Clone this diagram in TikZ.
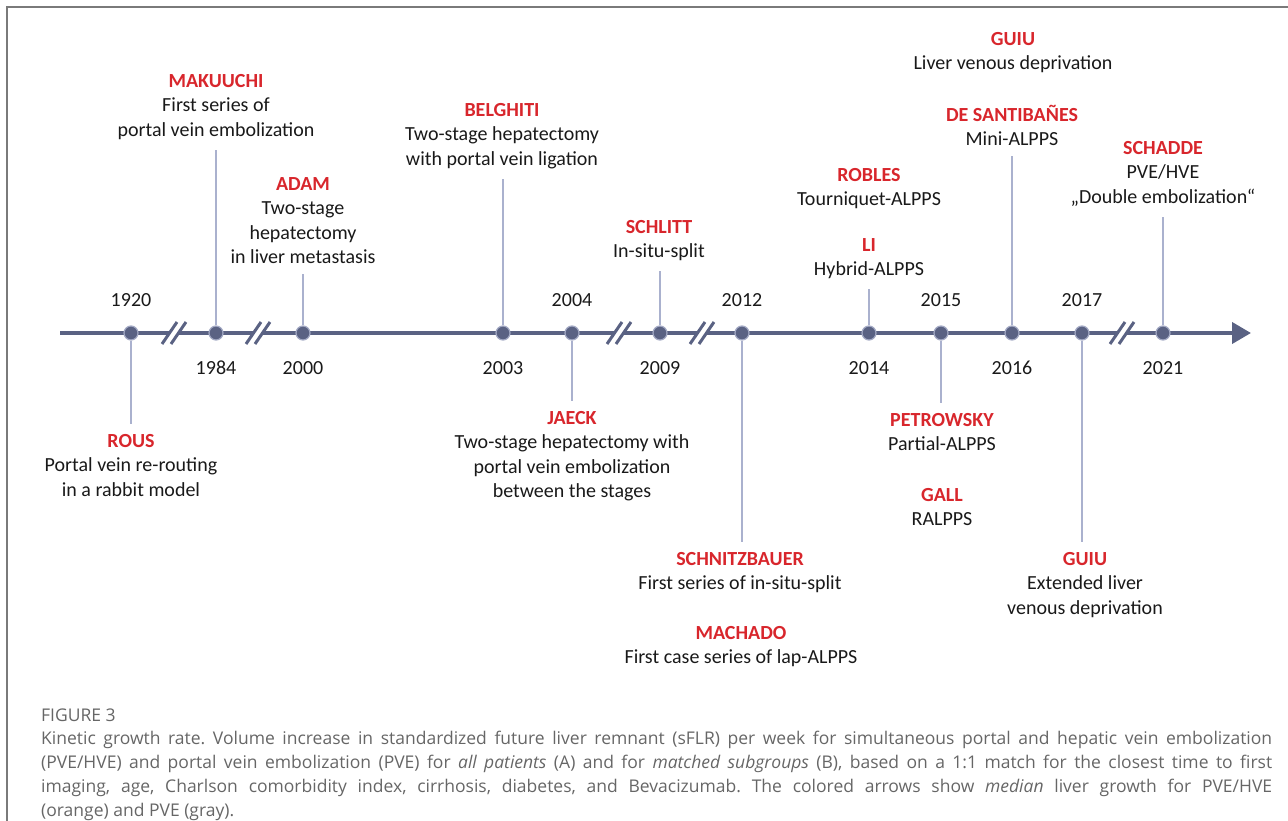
\documentclass[tikz,border=0pt]{standalone}
\usepackage{fontspec}
\setmainfont{Carlito}
\newfontfamily\capfont{Open Sans}
\usetikzlibrary{arrows.meta}
\definecolor{tl}{HTML}{5A6283}
\definecolor{tlring}{HTML}{A3A9C4}
\definecolor{conn}{HTML}{AAB1CE}
\definecolor{nm}{HTML}{D8262C}
\definecolor{cap}{HTML}{666666}
\definecolor{frm}{HTML}{7A7A7A}
\newcommand{\nme}[1]{\textcolor{nm}{\textbf{#1}}}
\frenchspacing
\begin{document}
\begin{tikzpicture}[x=1pt,y=-1pt,
  ev/.style={align=center,inner sep=0pt,anchor=north,font=\fontsize{20}{24.5}\selectfont,text=black!90},
  yr/.style={inner sep=0pt,font=\fontsize{20}{23}\selectfont,text=black!90},
  dotnode/.style={circle,fill=tl,draw=tlring,line width=1.2pt,minimum size=14pt,inner sep=0pt},
  connline/.style={draw=conn,line width=2pt,shorten >=10pt},
  brk/.pic={
    \fill[white] (-12,11) -- (3,-11) -- (12,-11) -- (-3,11) -- cycle;
    \draw[tl,line width=3pt] (-12,11) -- (3,-11);
    \draw[tl,line width=3pt] (-3,11) -- (12,-11);
  }]
\useasboundingbox (0,0) rectangle (1288,821);
\draw[frm,line width=1.2pt] (7,821) -- (7,7) -- (1288,7);

% timeline
\coordinate (tls) at (60,333);
\coordinate (tle) at (1251,333);
\draw[tl,line width=4pt,-{Triangle[length=19pt,width=21pt]}] (tls) -- (tle);
\foreach \bx in {174,258,619,702,1122} \pic at (\bx,333) {brk};

% dots
\node[dotnode] (d1920) at (131,333) {};
\node[dotnode] (d1984) at (216,333) {};
\node[dotnode] (d2000) at (303,333) {};
\node[dotnode] (d2003) at (503,333) {};
\node[dotnode] (d2004) at (572,333) {};
\node[dotnode] (d2009) at (660,333) {};
\node[dotnode] (d2012) at (742,333) {};
\node[dotnode] (d2014) at (869,333) {};
\node[dotnode] (d2015) at (941,333) {};
\node[dotnode] (d2016) at (1012,333) {};
\node[dotnode] (d2017) at (1082,333) {};
\node[dotnode] (d2021) at (1163,333) {};

% years
\node[yr] (y1920) at (131,300) {1920};
\node[yr] (y1984) at (216,368) {1984};
\node[yr] (y2000) at (303,368) {2000};
\node[yr] (y2003) at (503,368) {2003};
\node[yr] (y2004) at (572,300) {2004};
\node[yr] (y2009) at (660,368) {2009};
\node[yr] (y2012) at (742,300) {2012};
\node[yr] (y2014) at (869,368) {2014};
\node[yr] (y2015) at (941,300) {2015};
\node[yr] (y2016) at (1012,368) {2016};
\node[yr] (y2017) at (1082,300) {2017};
\node[yr] (y2021) at (1163,368) {2021};

% events
\node[ev] (rous) at (131,434) {\nme{ROUS}\\Portal vein re-routing\\in a rabbit model};
\node[ev] (mak) at (216,74) {\nme{MAKUUCHI}\\First series of\\portal vein embolization};
\node[ev] (adam) at (303,177) {\nme{ADAM}\\Two-stage\\hepatectomy\\in liver metastasis};
\node[ev] (bel) at (502,103) {\nme{BELGHITI}\\Two-stage hepatectomy\\with portal vein ligation};
\node[ev] (jaeck) at (572,411) {\nme{JAECK}\\Two-stage hepatectomy with\\portal vein embolization\\between the stages};
\node[ev] (schl) at (659,220) {\nme{SCHLITT}\\In-situ-split};
\node[ev] (schn) at (740,552) {\nme{SCHNITZBAUER}\\First series of in-situ-split};
\node[ev] (mach) at (741,626) {\nme{MACHADO}\\First case series of lap-ALPPS};
\node[ev] (rob) at (869,168) {\nme{ROBLES}\\Tourniquet-ALPPS};
\node[ev] (li) at (869,238) {\nme{LI}\\Hybrid-ALPPS};
\node[ev] (pet) at (942,413) {\nme{PETROWSKY}\\Partial-ALPPS};
\node[ev] (gall) at (942,488) {\nme{GALL}\\RALPPS};
\node[ev] (guiua) at (1013,32) {\nme{GUIU}\\Liver venous deprivation};
\node[ev] (desa) at (1012,105) {\nme{DE SANTIBAÑES}\\Mini-ALPPS};
\node[ev] (guiub) at (1085,552) {\nme{GUIU}\\Extended liver\\venous deprivation};
\node[ev] (schad) at (1163,141) {\nme{SCHADDE}\\PVE/HVE\\„Double embolization“};

% connectors
\draw[connline] (d1920.south) -- (d1920 |- rous.north);
\draw[connline] (d1984.north) -- (d1984 |- mak.south);
\draw[connline] (d2000.north) -- (d2000 |- adam.south);
\draw[connline] (d2003.north) -- (d2003 |- bel.south);
\draw[connline] (d2004.south) -- (d2004 |- jaeck.north);
\draw[connline] (d2009.north) -- (d2009 |- schl.south);
\draw[connline] (d2012.south) -- (d2012 |- schn.north);
\draw[connline] (d2014.north) -- (d2014 |- li.south);
\draw[connline] (d2015.south) -- (d2015 |- pet.north);
\draw[connline] (d2016.north) -- (d2016 |- desa.south);
\draw[connline] (d2017.south) -- (d2017 |- guiub.north);
\draw[connline] (d2021.north) -- (d2021 |- schad.south);

% caption
\node[anchor=base west,inner sep=0pt,text=cap,font=\capfont\fontsize{17.5}{24}\selectfont] (fig) at (41,721) {FIGURE 3};
\node[anchor=north west,inner sep=0pt,text=cap,text width=1231pt,align=justify,font=\capfont\fontsize{17.5}{24}\selectfont] (capt) at (41,731) {Kinetic growth rate. Volume increase in standardized future liver remnant (sFLR) per week for simultaneous portal and hepatic vein embolization\linebreak
(PVE/HVE) and portal vein embolization (PVE) for \textit{all patients} (A) and for \textit{matched subgroups} (B), based on a 1:1 match for the closest time to first\linebreak
imaging, age, Charlson comorbidity index, cirrhosis, diabetes, and Bevacizumab. The colored arrows show \textit{median} liver growth for PVE/HVE\linebreak
(orange) and PVE (gray).};
\end{tikzpicture}
\end{document}
